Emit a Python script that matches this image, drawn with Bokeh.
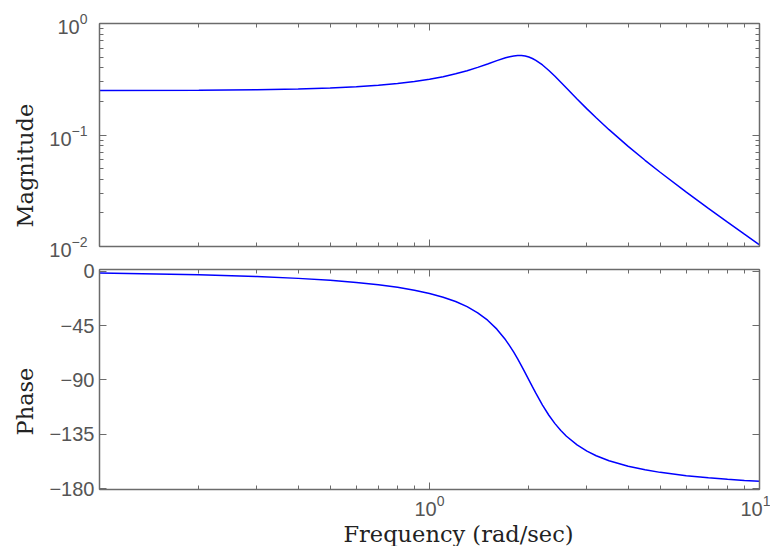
from bokeh.plotting import figure
from bokeh.layouts import column
from bokeh.models import Range1d, FixedTicker, LogAxis, LinearAxis, CustomJSTickFormatter, Title
from bokeh.embed import file_html
from bokeh.resources import INLINE

# ---- data ----
freq = [0.1, 0.2, 0.3, 0.4, 0.5, 0.6, 0.7, 0.8, 0.9, 1.0, 1.1, 1.2, 1.3, 1.4, 1.5, 1.6,
        1.7, 1.75, 1.8, 1.85, 1.9, 1.95, 2.0, 2.05, 2.1, 2.2, 2.3, 2.4, 2.5, 2.6, 2.8,
        3.0, 3.2, 3.5, 4.0, 4.5, 5.0, 6.0, 7.0, 8.0, 9.0, 10.0]
magnitude = [0.25055, 0.25220, 0.25500, 0.25901, 0.26433, 0.27107, 0.27940, 0.28953,
             0.30170, 0.31623, 0.33344, 0.35369, 0.37726, 0.40417, 0.43386, 0.46456,
             0.49254, 0.50370, 0.51181, 0.51598, 0.51557, 0.51021, 0.50000, 0.48544,
             0.46736, 0.42465, 0.37921, 0.33600, 0.29732, 0.26373, 0.21042,
             0.17150, 0.14260, 0.11159, 0.07906, 0.05931, 0.04632, 0.03071, 0.02196,
             0.01652, 0.01290, 0.01036]
phase = [-1.44, -2.89, -4.39, -5.95, -7.60, -9.36, -11.28, -13.39, -15.76, -18.43,
         -21.52, -25.11, -29.36, -34.46, -40.60, -48.01, -56.86, -61.82, -67.11, -72.66,
         -78.40, -84.22, -90.00, -95.64, -101.05, -110.90, -119.29, -126.25, -131.99,
         -136.71, -143.90, -149.04, -152.85, -157.01, -161.57, -164.52, -166.61,
         -169.38, -171.16, -172.41, -173.33, -174.05]

x_major = [1, 10]
x_minor = [0.2, 0.3, 0.4, 0.5, 0.6, 0.7, 0.8, 0.9, 2, 3, 4, 5, 6, 7, 8, 9]
mag_major = [0.01, 0.1, 1]
mag_minor = [0.02, 0.03, 0.04, 0.05, 0.06, 0.07, 0.08, 0.09,
             0.2, 0.3, 0.4, 0.5, 0.6, 0.7, 0.8, 0.9]
phase_major = [-180, -135, -90, -45, 0]
phase_labels = {-180: "\u2212180", -135: "\u2212135", -90: "\u221290", -45: "\u221245", 0: "0"}

AXIS_COLOR = "#6b6b6b"
TICK_LABEL_COLOR = "#555555"
LABEL_COLOR = "#222222"
TICK_FONT = "Liberation Sans"
LABEL_FONT = "DejaVu Serif"
LABEL_SIZE = "22.5px"

blank = CustomJSTickFormatter(code="return ''")


def style_axis(ax, show_labels, standoff=6):
    ax.axis_line_color = AXIS_COLOR
    ax.axis_line_width = 1.5
    ax.major_tick_line_color = AXIS_COLOR
    ax.minor_tick_line_color = AXIS_COLOR
    ax.major_tick_line_width = 1
    ax.minor_tick_line_width = 1
    ax.major_tick_in = 7
    ax.major_tick_out = 0
    ax.minor_tick_in = 4
    ax.minor_tick_out = 0
    ax.major_label_text_font = TICK_FONT
    ax.major_label_text_font_size = "20px"
    ax.major_label_text_color = TICK_LABEL_COLOR
    ax.major_label_standoff = standoff
    if not show_labels:
        ax.formatter = blank
        ax.major_label_standoff = 0


def axis_title(p, text, side, offset, standoff):
    p.add_layout(Title(text=text, align="left", offset=offset, standoff=standoff,
                       text_font=LABEL_FONT, text_font_size=LABEL_SIZE,
                       text_font_style="normal", text_color=LABEL_COLOR), side)


xr = Range1d(0.1, 10)

# ---- magnitude panel ----
p1 = figure(width=770, height=261, x_axis_type="log", y_axis_type="log",
            x_range=xr, y_range=Range1d(0.01, 1),
            output_backend="svg", toolbar_location=None,
            min_border_left=99, min_border_right=11, min_border_top=23, min_border_bottom=15)
p1.line(freq, magnitude, line_color="#0000ff", line_width=1.5)
p1.grid.visible = False
p1.outline_line_color = AXIS_COLOR
p1.xaxis.ticker = FixedTicker(ticks=x_major, minor_ticks=x_minor)
p1.yaxis.ticker = FixedTicker(ticks=mag_major, minor_ticks=mag_minor)
style_axis(p1.xaxis[0], False)
style_axis(p1.yaxis[0], True, standoff=12)
top1 = LogAxis(ticker=FixedTicker(ticks=x_major, minor_ticks=x_minor))
right1 = LogAxis(ticker=FixedTicker(ticks=mag_major, minor_ticks=mag_minor))
style_axis(top1, False)
style_axis(right1, False)
p1.add_layout(top1, "above")
p1.add_layout(right1, "right")
axis_title(p1, "Magnitude", "left", 19, 17)

# ---- phase panel ----
p2 = figure(width=770, height=285, x_axis_type="log",
            x_range=xr, y_range=Range1d(-180.8, 1.4),
            output_backend="svg", toolbar_location=None,
            min_border_left=99, min_border_right=11, min_border_top=8, min_border_bottom=56)
p2.line(freq, phase, line_color="#0000ff", line_width=1.5)
p2.grid.visible = False
p2.outline_line_color = AXIS_COLOR
p2.xaxis.ticker = FixedTicker(ticks=x_major, minor_ticks=x_minor)
p2.yaxis.ticker = FixedTicker(ticks=phase_major, minor_ticks=[])
p2.yaxis.major_label_overrides = phase_labels
style_axis(p2.xaxis[0], True, standoff=5)
style_axis(p2.yaxis[0], True, standoff=5)
top2 = LogAxis(ticker=FixedTicker(ticks=x_major, minor_ticks=x_minor))
right2 = LinearAxis(ticker=FixedTicker(ticks=phase_major, minor_ticks=[]))
style_axis(top2, False)
style_axis(right2, False)
p2.add_layout(top2, "above")
p2.add_layout(right2, "right")
axis_title(p2, "Phase", "left", 54, 17)
axis_title(p2, "Frequency (rad/sec)", "below", 244, 0)

layout = column(p1, p2)
open("out.html", "w").write(file_html(layout, INLINE))
